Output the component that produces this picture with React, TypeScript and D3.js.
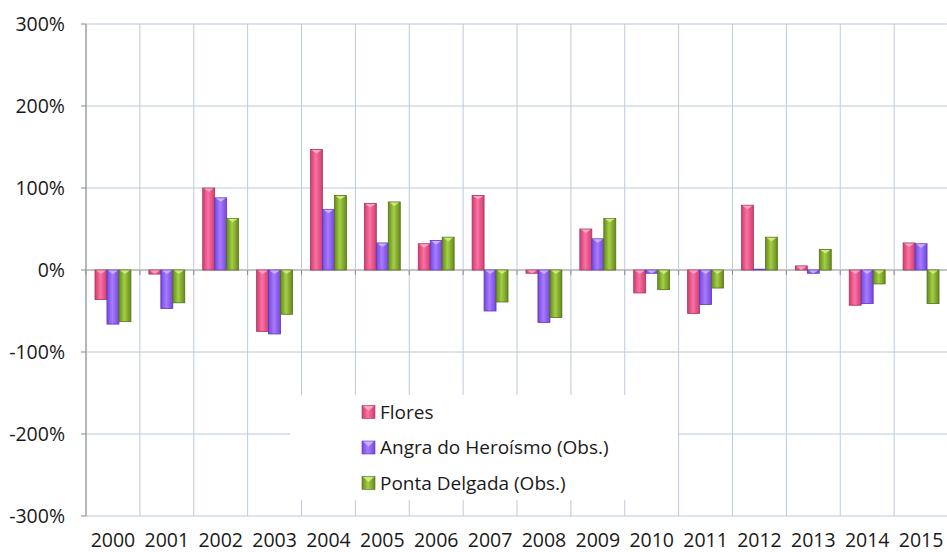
import React from "react";
import * as d3 from "d3";

const years = ["2000","2001","2002","2003","2004","2005","2006","2007","2008","2009","2010","2011","2012","2013","2014","2015"];
const flores = [-36, -5, 100, -75, 147, 81, 32, 91, -4, 50, -28, -53, 79, 5, -43, 33];
const angra = [-66, -47, 88, -78, 74, 33, 36, -50, -64, 38, -4, -42, 1, -4, -41, 32];
const ponta = [-63, -40, 63, -54, 91, 83, 40, -39, -58, 63, -24, -22, 40, 25, -17, -41];
const yTicks = [-300, -200, -100, 0, 100, 200, 300];
const seriesNames = ["Flores", "Angra do Heroísmo (Obs.)", "Ponta Delgada (Obs.)"];

const W = 947, H = 552;
const left = 86, right = 948, top = 24, bottom = 516;

const palette = [
  { edge: "#c9406f", mid: "#ff6fa3", stroke: "#a8355d", cap: "#ffb0cc" },
  { edge: "#7446dc", mid: "#a77bff", stroke: "#5f38b8", cap: "#d3bcff" },
  { edge: "#66891f", mid: "#a3cf45", stroke: "#56731a", cap: "#d8f08a" },
];

export default function App() {
  const x = d3.scaleBand<string>().domain(years).range([left, right]).paddingInner(0).paddingOuter(0);
  const y = d3.scaleLinear().domain([-300, 300]).range([bottom, top]);
  const bw = x.bandwidth();
  const barW = bw / 4.5;
  const data = [flores, angra, ponta];
  const font = "'Open Sans', sans-serif";
  const gridColor = "#bccbda";

  return (
    <div style={{ position: "fixed", left: 0, top: 0 }}>
      <svg width={W} height={H} style={{ display: "block", background: "#fff" }}>
        <defs>
          {palette.map((p, i) => (
            <linearGradient key={i} id={`g${i}`} x1="0" x2="1" y1="0" y2="0">
              <stop offset="0%" stopColor={p.edge} />
              <stop offset="45%" stopColor={p.mid} />
              <stop offset="100%" stopColor={p.edge} />
            </linearGradient>
          ))}
        </defs>
        {yTicks.map((t) => (
          <line key={"h" + t} x1={left} x2={right} y1={y(t)} y2={y(t)} stroke={t === 0 ? "#8a8a8a" : gridColor} strokeWidth={1} />
        ))}
        {years.map((yr) => (
          <line key={"v" + yr} x1={x(yr)!} x2={x(yr)!} y1={top} y2={bottom} stroke={gridColor} strokeWidth={1} />
        ))}
        <line x1={left} x2={left} y1={top} y2={bottom} stroke="#8a8a8a" />
        {yTicks.map((t) => (
          <line key={"yt" + t} x1={left - 5} x2={left} y1={y(t)} y2={y(t)} stroke="#8a8a8a" />
        ))}
        {years.map((yr) => (
          <line key={"xt" + yr} x1={x(yr)!} x2={x(yr)!} y1={y(0)} y2={y(0) + 5} stroke="#8a8a8a" />
        ))}
        {data.map((vals, si) =>
          vals.map((v, i) => {
            const bx = x(years[i])! + (bw - 3 * barW) / 2 + si * barW;
            const y0 = y(0), y1 = y(v);
            const ry = Math.min(y0, y1);
            const rh = Math.abs(y1 - y0);
            const capH = Math.min(4, rh);
            const capY = v >= 0 ? ry : y0;
            return (
              <g key={si + "-" + i}>
                <rect x={bx} y={ry} width={barW} height={rh} fill={`url(#g${si})`} stroke={palette[si].stroke} strokeWidth={0.8} />
                {rh > 3 && (
                  <path
                    d={`M${bx + 1},${capY + 0.5} L${bx + barW - 1},${capY + 0.5} L${bx + barW / 2},${capY + capH} Z`}
                    fill={palette[si].cap}
                    opacity={0.85}
                  />
                )}
              </g>
            );
          })
        )}
        {yTicks.map((t) => (
          <text key={"yl" + t} x={65} y={y(t)} dy="0.36em" textAnchor="end" fontFamily={font} fontSize={19.5} fill="#1a1a1a">
            {t + "%"}
          </text>
        ))}
        {years.map((yr) => (
          <text key={"xl" + yr} x={x(yr)! + bw / 2} y={547} textAnchor="middle" fontFamily={font} fontSize={19.5} fill="#1a1a1a">
            {yr}
          </text>
        ))}
        <rect x={290} y={395} width={388} height={105} fill="#fff" />
        {seriesNames.map((n, i) => {
          const cy = 412 + i * 35.5;
          return (
            <g key={n}>
              <rect x={362} y={cy - 6.5} width={13} height={13} fill={`url(#g${i})`} stroke={palette[i].stroke} strokeWidth={0.6} />
              <path d={`M${363},${cy - 6} L${374},${cy - 6} L${368.5},${cy - 1} Z`} fill={palette[i].cap} opacity={0.85} />
              <text x={380} y={cy} dy="0.36em" fontFamily={font} fontSize={19} fill="#1a1a1a">{n}</text>
            </g>
          );
        })}
      </svg>
    </div>
  );
}
